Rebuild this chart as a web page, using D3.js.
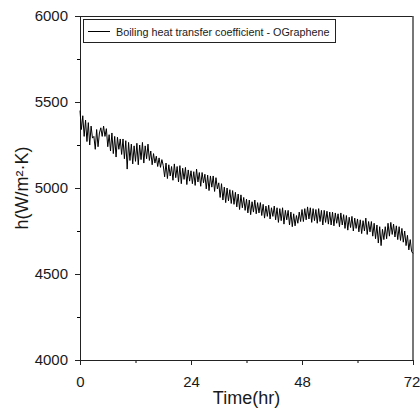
<!DOCTYPE html>
<html>
<head>
<meta charset="utf-8">
<script src="https://cdn.jsdelivr.net/npm/d3@7"></script>
<style>
    body { margin: 0; background: #fff; }
    text { font-family: "Liberation Sans", Arial, sans-serif; fill: #1a1a1a; }
</style>
</head>
<body>
<div id="chart"></div>
<script>
// sampled every 0.3 hr, 0 .. 72 hr
const timeStep = 0.3;
const hValues = [
    5450, 5340, 5420, 5300, 5395, 5270, 5380, 5250, 5360, 5290,
    5300, 5225, 5340, 5240, 5320, 5350, 5300, 5360, 5300, 5345,
    5240, 5310, 5215, 5320, 5200, 5300, 5180, 5295, 5225, 5285,
    5195, 5285, 5170, 5275, 5110, 5265, 5160, 5255, 5140, 5245,
    5155, 5260, 5135, 5250, 5165, 5265, 5145, 5245, 5170, 5255,
    5160, 5215, 5135, 5200, 5145, 5185, 5125, 5175, 5120, 5165,
    5130, 5065, 5145, 5055, 5135, 5070, 5125, 5045, 5140, 5060,
    5125, 5035, 5130, 5025, 5115, 5050, 5120, 5020, 5105, 5040,
    5100, 5025, 5095, 5015, 5110, 5035, 5090, 5010, 5090, 5030,
    5080, 4995, 5075, 4985, 5070, 5005, 5070, 4980, 5060, 4995,
    5030, 4945, 5025, 4930, 5005, 4915, 5000, 4925, 4990, 4910,
    4985, 4905, 4975, 4890, 4965, 4875, 4960, 4885, 4945, 4870,
    4935, 4855, 4930, 4845, 4920, 4860, 4930, 4850, 4915, 4855,
    4915, 4840, 4905, 4825, 4895, 4835, 4900, 4820, 4885, 4835,
    4895, 4815, 4885, 4800, 4880, 4810, 4885, 4790, 4870, 4815,
    4870, 4785, 4860, 4775, 4850, 4780, 4840, 4795, 4860, 4805,
    4875, 4805, 4880, 4815, 4890, 4820, 4885, 4800, 4880, 4810,
    4875, 4795, 4880, 4805, 4870, 4785, 4870, 4800, 4865, 4790,
    4860, 4785, 4860, 4780, 4855, 4795, 4850, 4775, 4855, 4785,
    4845, 4765, 4840, 4755, 4830, 4770, 4835, 4750, 4825, 4765,
    4820, 4745, 4815, 4735, 4810, 4750, 4825, 4730, 4805, 4745,
    4805, 4720, 4795, 4705, 4785, 4680, 4775, 4665, 4760, 4700,
    4775, 4705, 4795, 4720, 4800, 4730, 4790, 4715, 4780, 4700,
    4775, 4695, 4765, 4685, 4750, 4665, 4725, 4640, 4700, 4630,
    4620
];
const xTicks = [0, 24, 48, 72];
const xMinorTicks = [12, 36, 60];
const yTicks = [4000, 4500, 5000, 5500, 6000];
const yMinorTicks = [4250, 4750, 5250, 5750];
const legendLabel = "Boiling heat transfer coefficient - OGraphene";

const width = 420, height = 410;
const margin = { top: 16, right: 7, bottom: 50, left: 80 };
const innerW = width - margin.left - margin.right;
const innerH = height - margin.top - margin.bottom;

const svg = d3.select("#chart").append("svg")
    .attr("width", width)
    .attr("height", height);

const g = svg.append("g")
    .attr("transform", `translate(${margin.left},${margin.top})`);

const x = d3.scaleLinear().domain([0, 72]).range([0, innerW]);
const y = d3.scaleLinear().domain([4000, 6000]).range([innerH, 0]);

const points = hValues.map((v, i) => ({ t: i * timeStep, h: v }));

// frame (top + right)
g.append("line")
    .attr("x1", 0).attr("x2", innerW)
    .attr("y1", 0.5).attr("y2", 0.5)
    .attr("stroke", "#222").attr("stroke-width", 1);
g.append("line")
    .attr("x1", innerW).attr("x2", innerW)
    .attr("y1", 0).attr("y2", innerH)
    .attr("stroke", "#555").attr("stroke-width", 1.6);

// minor ticks
g.append("g")
    .attr("transform", `translate(0,${innerH})`)
    .call(d3.axisBottom(x).tickValues(xMinorTicks).tickSize(3).tickFormat(""))
    .call(a => a.select(".domain").remove());
g.append("g")
    .call(d3.axisLeft(y).tickValues(yMinorTicks).tickSize(3).tickFormat(""))
    .call(a => a.select(".domain").remove());

// main axes
const xAxis = g.append("g")
    .attr("transform", `translate(0,${innerH})`)
    .call(d3.axisBottom(x).tickValues(xTicks).tickFormat(d3.format("d"))
        .tickSize(5).tickSizeOuter(0).tickPadding(11));
const yAxis = g.append("g")
    .call(d3.axisLeft(y).tickValues(yTicks).tickFormat(d3.format("d"))
        .tickSize(5).tickSizeOuter(0).tickPadding(7));

[xAxis, yAxis].forEach(a => {
    a.selectAll("text")
        .style("font-size", "15px")
        .style("font-family", "'Liberation Sans', Arial, sans-serif")
        .attr("fill", "#1a1a1a");
    a.selectAll("line").attr("stroke", "#222");
    a.select(".domain").attr("stroke", "#222");
});
// last label sits on the window edge, pull it in a touch
xAxis.selectAll(".tick").filter(d => d === 72).select("text").attr("dx", "-1.5");

// data line
const line = d3.line()
    .x(d => x(d.t))
    .y(d => y(d.h));

g.append("path")
    .datum(points)
    .attr("fill", "none")
    .attr("stroke", "#000")
    .attr("stroke-width", 1)
    .attr("d", line);

// legend
const legend = g.append("g").attr("transform", "translate(3,3)");
legend.append("rect")
    .attr("x", 0.5).attr("y", 0.5)
    .attr("width", 252).attr("height", 23)
    .attr("fill", "#fff")
    .attr("stroke", "#222")
    .attr("stroke-width", 1);
legend.append("line")
    .attr("x1", 5).attr("x2", 27)
    .attr("y1", 12.5).attr("y2", 12.5)
    .attr("stroke", "#000").attr("stroke-width", 1);
legend.append("text")
    .attr("x", 33).attr("y", 16.5)
    .style("font-size", "10.8px")
    .text(legendLabel);

// axis titles
svg.append("text")
    .attr("x", margin.left + innerW / 2)
    .attr("y", 404)
    .attr("text-anchor", "middle")
    .style("font-size", "18px")
    .text("Time(hr)");

svg.append("text")
    .attr("transform", `translate(28,${margin.top + innerH / 2}) rotate(-90)`)
    .attr("text-anchor", "middle")
    .style("font-size", "18px")
    .text("h(W/m\u00B2\u00B7K)");
</script>
</body>
</html>
